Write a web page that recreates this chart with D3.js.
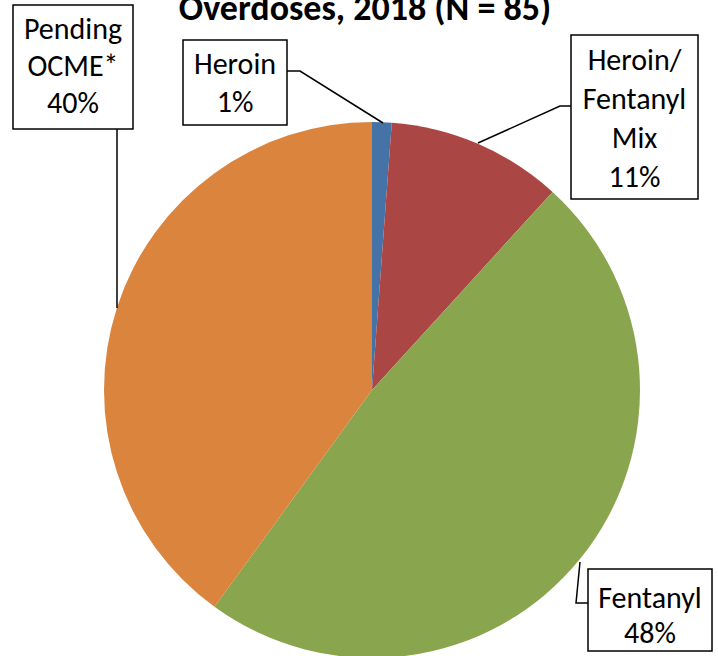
<!DOCTYPE html>
<html>
<head>
<meta charset="utf-8">
<script src="https://cdn.jsdelivr.net/npm/d3@7"></script>
<style>
  body { margin: 0; background: #fff; }
  svg { display: block; }
  text { font-family: Carlito, Calibri, Lato, sans-serif; fill: #000; }
</style>
</head>
<body>
<svg></svg>
<script>
const categories = ['Heroin', 'Heroin/Fentanyl Mix', 'Fentanyl', 'Pending OCME*'];
const counts = [1, 9, 41, 34];
const colors = ['#4572A7', '#AA4643', '#89A54E', '#DB843D'];
const labelLines = [['Heroin', '1%'], ['Heroin/', 'Fentanyl', 'Mix', '11%'], ['Fentanyl', '48%'], ['Pending', 'OCME*', '40%']];
const title = 'Overdoses, 2018 (N = 85)';

const width = 718, height = 656;
const cx = 372, cy = 390, radius = 268;

const svg = d3.select('svg')
  .attr('width', width)
  .attr('height', height);

svg.append('text')
  .attr('x', 365)
  .attr('y', 20)
  .attr('text-anchor', 'middle')
  .style('font-weight', 'bold')
  .style('font-size', '36px')
  .text(title);

const pie = d3.pie().sort(null)(counts);
const arc = d3.arc().innerRadius(0).outerRadius(radius);

const g = svg.append('g')
  .attr('transform', 'translate(' + cx + ',' + cy + ')');

g.selectAll('path')
  .data(pie)
  .enter().append('path')
    .attr('d', arc)
    .attr('fill', (d, i) => colors[i]);

// label boxes (x, y, w, h), first baseline and line step, per category
const boxes = [
  { x: 183, y: 40, w: 104, h: 85, line0: 74, step: 38 },
  { x: 571, y: 35, w: 127, h: 164, line0: 70, step: 39 },
  { x: 588, y: 569, w: 124, h: 82, line0: 608, step: 35 },
  { x: 13, y: 5, w: 120, h: 124, line0: 39, step: 37 }
];
const leaders = [
  [[287, 71], [300, 71], [383, 123]],
  [[571, 106], [560, 106], [478, 143]],
  [[588, 603], [576, 603], [580, 562]],
  [[117, 129], [117, 308]]
];

const line = d3.line();
svg.selectAll('.leader')
  .data(leaders)
  .enter().append('path')
    .attr('class', 'leader')
    .attr('d', line)
    .attr('fill', 'none')
    .attr('stroke', '#000')
    .attr('stroke-width', 1.5);

const labels = svg.selectAll('.label')
  .data(boxes)
  .enter().append('g')
    .attr('class', 'label');

labels.append('rect')
  .attr('x', d => d.x)
  .attr('y', d => d.y)
  .attr('width', d => d.w)
  .attr('height', d => d.h)
  .attr('fill', '#fff')
  .attr('stroke', '#000')
  .attr('stroke-width', 1.5);

labels.each(function (d, i) {
  const t = d3.select(this);
  labelLines[i].forEach((s, j) => {
    t.append('text')
      .attr('x', d.x + d.w / 2)
      .attr('y', d.line0 + j * d.step)
      .attr('text-anchor', 'middle')
      .style('font-size', '30px')
      .text(s);
  });
});
</script>
</body>
</html>
